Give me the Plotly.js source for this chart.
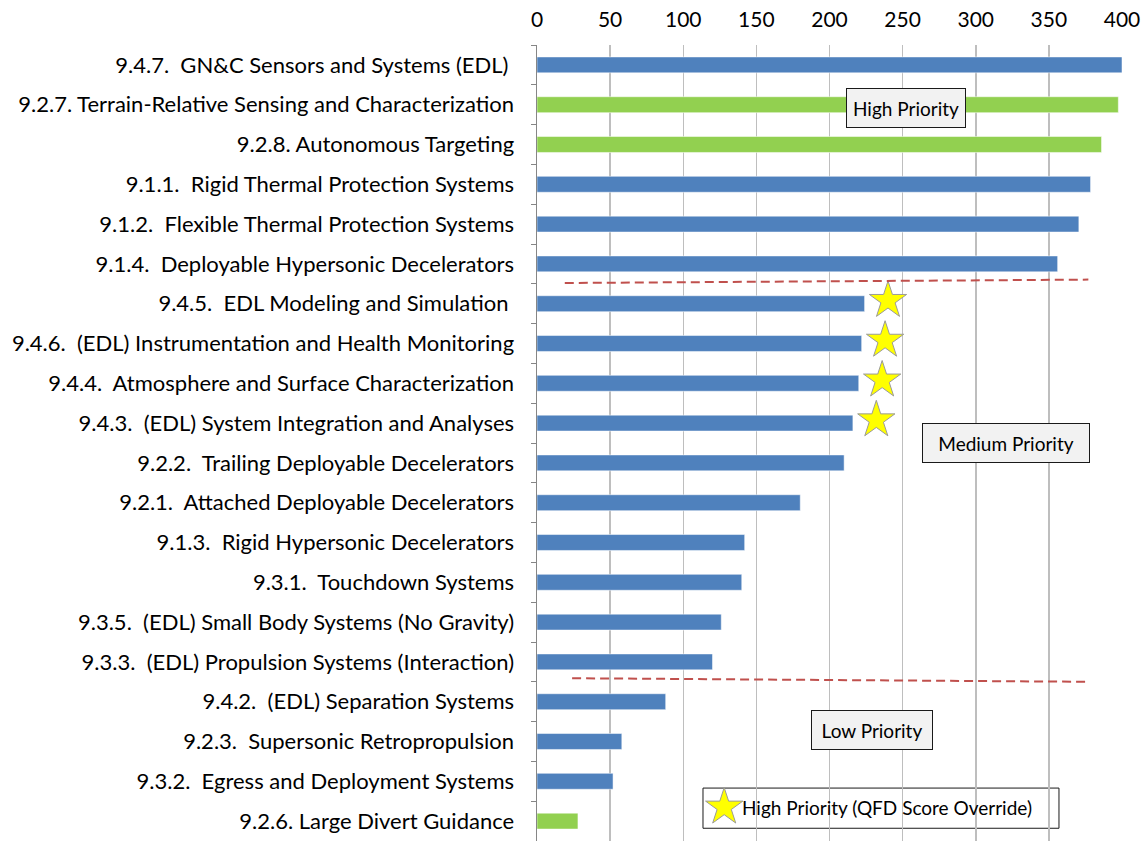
<!DOCTYPE html>
<html><head><meta charset="utf-8">
<script src="https://cdn.plot.ly/plotly-3.0.1.min.js"></script>
<style>html,body{margin:0;padding:0;background:#fff}#chart{width:1141px;height:841px}</style>
</head><body><div id="chart"></div>
<script>
const categories = [
  "9.4.7.  GN&C Sensors and Systems (EDL) ",
  "9.2.7. Terrain-Relative Sensing and Characterization",
  "9.2.8. Autonomous Targeting",
  "9.1.1.  Rigid Thermal Protection Systems",
  "9.1.2.  Flexible Thermal Protection Systems",
  "9.1.4.  Deployable Hypersonic Decelerators",
  "9.4.5.  EDL Modeling and Simulation ",
  "9.4.6.  (EDL) Instrumentation and Health Monitoring",
  "9.4.4.  Atmosphere and Surface Characterization",
  "9.4.3.  (EDL) System Integration and Analyses",
  "9.2.2.  Trailing Deployable Decelerators",
  "9.2.1.  Attached Deployable Decelerators",
  "9.1.3.  Rigid Hypersonic Decelerators",
  "9.3.1.  Touchdown Systems",
  "9.3.5.  (EDL) Small Body Systems (No Gravity)",
  "9.3.3.  (EDL) Propulsion Systems (Interaction)",
  "9.4.2.  (EDL) Separation Systems",
  "9.2.3.  Supersonic Retropropulsion",
  "9.3.2.  Egress and Deployment Systems",
  "9.2.6. Large Divert Guidance"
];
const scores = [400, 397.5, 386, 378.5, 370.5, 356, 224, 222, 220, 216, 210, 180, 142, 140, 126, 120, 88, 58, 52, 28];
const series = ["blue","green","green","blue","blue","blue","blue","blue","blue","blue","blue","blue","blue","blue","blue","blue","blue","blue","blue","green"];
const qfdOverride = ["9.4.5.  EDL Modeling and Simulation ", "9.4.6.  (EDL) Instrumentation and Health Monitoring", "9.4.4.  Atmosphere and Surface Characterization", "9.4.3.  (EDL) System Integration and Analyses"];
const xTicks = [0, 50, 100, 150, 200, 250, 300, 350, 400];
const priorityLabels = ["High Priority", "Medium Priority", "Low Priority"];
const legendLabel = "High Priority (QFD Score Override)";

const colorMap = {blue: "#4F81BD", green: "#92D050"};
const FONT = "Lato, 'Open Sans', sans-serif";
const starX = qfdOverride.map(c => scores[categories.indexOf(c)] + 16);
const starY = qfdOverride.map(c => categories.indexOf(c) - 0.08);
const starMarker = {symbol: "star", size: 28, color: "#FFFF00", line: {color: "#9A9A9A", width: 1}};

const traces = [
  {type: "bar", orientation: "h", y: categories, x: scores,
   marker: {color: series.map(s => colorMap[s]), line: {color: "rgba(255,255,255,0.5)", width: 1}},
   hoverinfo: "x+y", showlegend: false},
  {type: "scatter", mode: "markers", y: starY, x: starX, xaxis: "x", yaxis: "y2",
   marker: starMarker, showlegend: false, cliponaxis: false},
  {type: "scatter", mode: "markers", x: [128], y: [18.65], xaxis: "x", yaxis: "y2",
   marker: starMarker, showlegend: false, cliponaxis: false}
];

const ann = (text, x, y, w, h) => ({text, x, y, xref: "x", yref: "y", showarrow: false,
  font: {family: FONT, size: 19, color: "#000"}, bgcolor: "#F2F2F2", bordercolor: "#1a1a1a",
  borderwidth: 1, borderpad: 4, width: w, height: h});

const layout = {
  width: 1141, height: 841,
  margin: {l: 537, r: 19, t: 45, b: 0, pad: 0},
  paper_bgcolor: "#fff", plot_bgcolor: "#fff",
  font: {family: FONT, size: 21, color: "#000"},
  barmode: "overlay", bargap: 0.6,
  showlegend: false,
  xaxis: {side: "top", range: [0, 400], tickvals: xTicks, ticks: "", showgrid: true,
          gridcolor: "#BEBEBE", gridwidth: 1.5, zeroline: false, showline: false,
          tickfont: {family: FONT, size: 21, color: "#000"}, ticklabelstandoff: 13, fixedrange: true},
  yaxis: {type: "category", range: [19.5, -0.5], tickson: "boundaries", ticks: "outside",
          ticklen: 5, tickcolor: "#868686", showline: true, linecolor: "#868686", linewidth: 1.5,
          showgrid: false, zeroline: false,
          tickmode: "array", tickvals: categories, ticktext: categories.map(c => c.replace(/  /g, " \u00a0").replace(/ $/, "\u00a0")),
          tickfont: {family: FONT, size: 22, color: "#000"}, ticklabelstandoff: 17, fixedrange: true},
  yaxis2: {overlaying: "y", range: [19.5, -0.5], visible: false, fixedrange: true},
  shapes: [
    {type: "line", xref: "x", yref: "y", x0: 19, y0: 5.48, x1: 377, y1: 5.395,
     line: {color: "#C0504D", width: 2, dash: "9px,5px"}},
    {type: "line", xref: "x", yref: "y", x0: 24, y0: 15.41, x1: 377, y1: 15.5,
     line: {color: "#C0504D", width: 2, dash: "9px,5px"}},
    {type: "rect", xref: "x", yref: "y", x0: 113.5, x1: 356.9, y0: 18.17, y1: 19.18,
     fillcolor: "#fff", line: {color: "#1a1a1a", width: 1}, layer: "below"}
  ],
  annotations: [
    ann(priorityLabels[0], 252.3, 1.08, 110, 30),
    ann(priorityLabels[1], 320.7, 9.51, 158, 30),
    ann(priorityLabels[2], 229, 16.72, 112, 30),
    {text: legendLabel, x: 138.5, y: 18.67, xref: "x", yref: "y", xanchor: "left", showarrow: false,
     font: {family: FONT, size: 19, color: "#000"}}
  ]
};

Plotly.newPlot("chart", traces, layout, {displayModeBar: false, staticPlot: true});
</script></body></html>
